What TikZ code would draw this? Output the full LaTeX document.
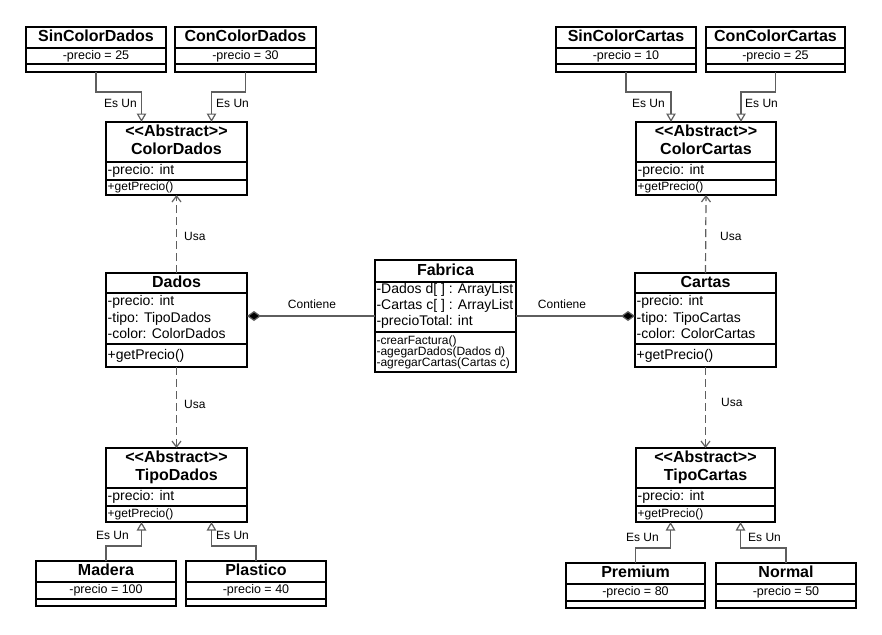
\documentclass[tikz,border=0pt]{standalone}
\usepackage{fontspec}
\setmainfont{Liberation Sans}
\usetikzlibrary{arrows.meta,calc}
\definecolor{linkgray}{HTML}{5E5E5E}

% A UML class box: name, left, right, top, first divider, second divider, bottom
\newcommand\classbox[7]{%
  \node[box, minimum width={(#3)-(#2)}, minimum height={(#7)-(#4)}, anchor=north west] (#1) at (#2,#4) {};
  \draw[sepline] (#2,#5) -- (#3,#5) (#2,#6) -- (#3,#6);
}

\begin{document}
\begin{tikzpicture}[x=1pt,y=-1pt,
  box/.style={draw=black, line width=1.3pt, rectangle, inner sep=0pt, outer sep=0pt},
  sepline/.style={draw=black, line width=1.1pt},
  ttl/.style={font=\fontsize{16}{17}\selectfont\bfseries, inner sep=0pt, text height=11.5pt, text depth=3pt},
  attr/.style={font=\fontsize{14}{16}\selectfont, anchor=west, inner sep=0pt, text height=10pt, text depth=3pt},
  meth/.style={font=\fontsize{12}{13}\selectfont, anchor=west, inner sep=0pt, text height=9pt, text depth=2.5pt},
  val/.style={font=\fontsize{12.5}{13}\selectfont, inner sep=0pt, text height=9pt, text depth=2.5pt},
  lbl/.style={font=\fontsize{12}{13}\selectfont, inner sep=0pt, text height=9pt, text depth=2.5pt},
  link/.style={draw=linkgray, line width=1.2pt},
  isa/.style={link, -{Triangle[fill=white, length=8.5pt, width=9.5pt]}},
  uses/.style={link, dash pattern=on 8pt off 4pt, -{Straight Barb[length=6pt, width=9pt]}},
  has/.style={link, -{Diamond[fill=black, length=14pt, width=10pt]}},
]
\useasboundingbox[fill=white] (0,0) rectangle (882,634);

% ---------- colour classes of the dice ----------
\classbox{SinColorDados}{26}{166}{27}{48}{64}{72}
\node[ttl] (SinColorDados-t) at (96,37.5) {SinColorDados};
\node[val] (SinColorDados-a) at (96,56) {-precio = 25};

\classbox{ConColorDados}{175}{316}{27}{48}{64}{72}
\node[ttl] (ConColorDados-t) at (245.5,37.5) {ConColorDados};
\node[val] (ConColorDados-a) at (245.5,56) {-precio = 30};

\classbox{ColorDados}{106}{247}{122}{162}{180}{195}
\node[ttl] (ColorDados-s) at (176.5,132.5) {<{}<Abstract>{}>};
\node[ttl] (ColorDados-t) at (176.5,150) {ColorDados};
\node[attr] (ColorDados-a) at (107.5,171) {-precio: int};
\node[meth] (ColorDados-m) at (107.5,187.5) {+getPrecio()};

% ---------- colour classes of the cards ----------
\classbox{SinColorCartas}{556}{696}{27}{48}{64}{72}
\node[ttl] (SinColorCartas-t) at (626,37.5) {SinColorCartas};
\node[val] (SinColorCartas-a) at (626,56) {-precio = 10};

\classbox{ConColorCartas}{706}{845}{27}{48}{64}{72}
\node[ttl] (ConColorCartas-t) at (775.5,37.5) {ConColorCartas};
\node[val] (ConColorCartas-a) at (775.5,56) {-precio = 25};

\classbox{ColorCartas}{636}{776}{122}{162}{180}{195}
\node[ttl] (ColorCartas-s) at (706,132.5) {<{}<Abstract>{}>};
\node[ttl] (ColorCartas-t) at (706,150) {ColorCartas};
\node[attr] (ColorCartas-a) at (637.5,171) {-precio: int};
\node[meth] (ColorCartas-m) at (637.5,187.5) {+getPrecio()};

% ---------- main classes ----------
\classbox{Dados}{106}{247}{273}{293}{344}{367}
\node[ttl] (Dados-t) at (176.5,283) {Dados};
\node[attr] (Dados-a1) at (107.5,302) {-precio: int};
\node[attr] (Dados-a2) at (107.5,318.5) {-tipo: TipoDados};
\node[attr] (Dados-a3) at (107.5,335) {-color: ColorDados};
\node[attr] (Dados-m1) at (107.5,355.5) {+getPrecio()};

\classbox{Fabrica}{375}{516}{260}{282}{332}{372}
\node[ttl] (Fabrica-t) at (445.5,271) {Fabrica};
\node[attr] (Fabrica-a1) at (376.3,290) {-Dados d[ ] : ArrayList};
\node[attr] (Fabrica-a2) at (376.3,306) {-Cartas c[ ] : ArrayList};
\node[attr] (Fabrica-a3) at (376.3,322) {-precioTotal: int};
\node[meth] (Fabrica-m1) at (376.3,341) {-crearFactura()};
\node[meth] (Fabrica-m2) at (376.3,352) {-agegarDados(Dados d)};
\node[meth] (Fabrica-m3) at (376.3,363) {-agregarCartas(Cartas c)};

\classbox{Cartas}{635}{776}{273}{293}{344}{367}
\node[ttl] (Cartas-t) at (705.5,283) {Cartas};
\node[attr] (Cartas-a1) at (636.5,302) {-precio: int};
\node[attr] (Cartas-a2) at (636.5,318.5) {-tipo: TipoCartas};
\node[attr] (Cartas-a3) at (636.5,335) {-color: ColorCartas};
\node[attr] (Cartas-m1) at (636.5,355.5) {+getPrecio()};

% ---------- type classes ----------
\classbox{TipoDados}{106}{247}{448}{488}{506}{522}
\node[ttl] (TipoDados-s) at (176.5,458.5) {<{}<Abstract>{}>};
\node[ttl] (TipoDados-t) at (176.5,476) {TipoDados};
\node[attr] (TipoDados-a) at (107.5,497) {-precio: int};
\node[meth] (TipoDados-m) at (107.5,514.5) {+getPrecio()};

\classbox{TipoCartas}{636}{775}{448}{488}{506}{522}
\node[ttl] (TipoCartas-s) at (705.5,458.5) {<{}<Abstract>{}>};
\node[ttl] (TipoCartas-t) at (705.5,476) {TipoCartas};
\node[attr] (TipoCartas-a) at (637.5,497) {-precio: int};
\node[meth] (TipoCartas-m) at (637.5,514.5) {+getPrecio()};

\classbox{Madera}{36}{176}{561}{582}{599}{606}
\node[ttl] (Madera-t) at (106,571.5) {Madera};
\node[val] (Madera-a) at (106,590.5) {-precio = 100};

\classbox{Plastico}{186}{326}{561}{582}{599}{606}
\node[ttl] (Plastico-t) at (256,571.5) {Plastico};
\node[val] (Plastico-a) at (256,590.5) {-precio = 40};

\classbox{Premium}{566}{705}{563}{584}{601}{608}
\node[ttl] (Premium-t) at (635.5,573.5) {Premium};
\node[val] (Premium-a) at (635.5,592.5) {-precio = 80};

\classbox{Normal}{716}{856}{563}{584}{601}{608}
\node[ttl] (Normal-t) at (786,573.5) {Normal};
\node[val] (Normal-a) at (786,592.5) {-precio = 50};

% ---------- generalisations ----------
\draw[isa] (SinColorDados.south) -- ++(0,20) -| ($(ColorDados.north)+(-35,0)$);
\draw[isa] (ConColorDados.south) -- ++(0,20) -| ($(ColorDados.north)+(35,0)$);
\draw[isa] (SinColorCartas.south) -- ++(0,20) -| ($(ColorCartas.north)+(-35,0)$);
\draw[isa] (ConColorCartas.south) -- ++(0,20) -| ($(ColorCartas.north)+(35,0)$);
\draw[isa] (Madera.north) -- ++(0,-15) -| ($(TipoDados.south)+(-35,0)$);
\draw[isa] (Plastico.north) -- ++(0,-15) -| ($(TipoDados.south)+(35,0)$);
\draw[isa] (Premium.north) -- ++(0,-15) -| ($(TipoCartas.south)+(-35,0)$);
\draw[isa] (Normal.north) -- ++(0,-15) -| ($(TipoCartas.south)+(35,0)$);

\node[lbl, anchor=east] (esun1) at (137,104) {Es Un};
\node[lbl, anchor=west] (esun2) at (216,104) {Es Un};
\node[lbl, anchor=east] (esun3) at (665,104) {Es Un};
\node[lbl, anchor=west] (esun4) at (745,104) {Es Un};
\node[lbl, anchor=east] (esun5) at (129,536) {Es Un};
\node[lbl, anchor=west] (esun6) at (216,536) {Es Un};
\node[lbl, anchor=east] (esun7) at (659,538) {Es Un};
\node[lbl, anchor=west] (esun8) at (748,538) {Es Un};

% ---------- dependencies ----------
\draw[uses] (Dados.north) -- (ColorDados.south);
\draw[uses] (Dados.south) -- (TipoDados.north);
\draw[uses] (Cartas.north) -- (ColorCartas.south);
\draw[uses] (Cartas.south) -- (TipoCartas.north);
\node[lbl, anchor=west] (usa1) at (184,237) {Usa};
\node[lbl, anchor=west] (usa2) at (184,405) {Usa};
\node[lbl, anchor=west] (usa3) at (720,237) {Usa};
\node[lbl, anchor=west] (usa4) at (721,403) {Usa};

% ---------- compositions ----------
\draw[has] (Fabrica.west) -- (Fabrica.west -| Dados.east);
\draw[has] (Fabrica.east) -- (Fabrica.east -| Cartas.west);
\node[lbl] (contiene1) at (312,305) {Contiene};
\node[lbl] (contiene2) at (562,305) {Contiene};
\end{tikzpicture}
\end{document}
